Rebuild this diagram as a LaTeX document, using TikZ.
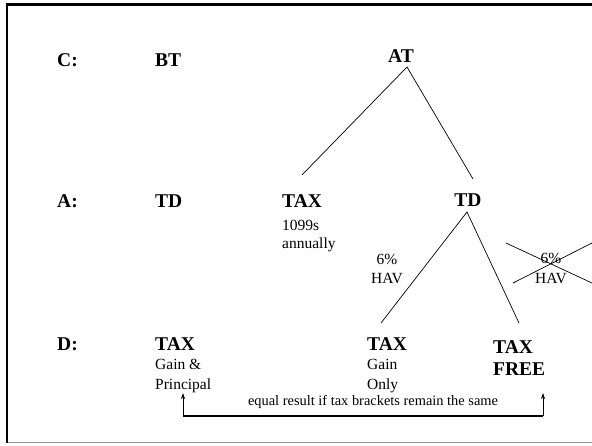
\documentclass[tikz,border=0pt]{standalone}
\usepackage{fontspec}
\setmainfont{Liberation Serif}
\usepackage{tikz}
\usetikzlibrary{arrows.meta, positioning}

\begin{document}
\begin{tikzpicture}[x=1pt, y=-1pt,
  rowlbl/.style={anchor=base west, inner sep=0pt, font=\fontsize{19.5}{23}\selectfont\bfseries},
  head/.style={anchor=base west, inner sep=0pt, font=\fontsize{19.5}{23}\selectfont\bfseries},
  sub/.style={anchor=base west, inner sep=0pt, font=\fontsize{15.5}{18}\selectfont},
  note/.style={anchor=base, inner sep=0pt, font=\fontsize{14.4}{17}\selectfont},
  branch/.style={line width=0.7pt},
  tip/.style={-{Stealth[length=6pt, width=4pt]}, line width=0.8pt}]
\definecolor{frameshade}{RGB}{150,150,150}
\useasboundingbox (0,0) rectangle (592,445);

% Frame (open on the right)
\draw[line width=2.5pt] (7,443) -- (7,4.5) -- (592,4.5);
\draw[frameshade, line width=1pt] (8,442.5) -- (592,442.5);

% ---- ROW C ----
\node[rowlbl] (rowC) at (57,66) {C:};
\node[head] (bt) at (155,66) {BT};
\node[head, anchor=base] (at) at (401,62) {AT};

% ---- ROW A ----
\node[rowlbl] (rowA) at (57,207) {A:};
\node[head] (tdLeft) at (155,207) {TD};
\node[head] (taxA) at (282,207) {TAX};
\node[sub] (forms) at (282,230) {1099s};
\node[sub] (yearly) at (282,248) {annually};
\node[head, anchor=base] (tdRight) at (468,206) {TD};

% HAV labels, the right one crossed out
\node[sub, anchor=base] (havPct) at (387,264) {6\%};
\node[sub, anchor=base] (hav) at (387,283) {HAV};
\node[sub, anchor=base] (xhavPct) at (551,263) {6\%};
\node[sub, anchor=base] (xhav) at (551,283) {HAV};

% ---- ROW D ----
\node[rowlbl] (rowD) at (57,350) {D:};
\node[head] (taxBoth) at (155,350) {TAX};
\node[sub] (gainAnd) at (155,369) {Gain \&};
\node[sub] (principal) at (155,389) {Principal};
\node[head] (taxGain) at (367,350) {TAX};
\node[sub] (gain) at (367,369) {Gain};
\node[sub] (only) at (367,389) {Only};
\node[head] (taxFree) at (493,353) {TAX};
\node[head] (free) at (493,375) {FREE};

% Tree branches
\coordinate (atTip) at (407,67);
\coordinate (atLeft) at (302,175);
\coordinate (atRight) at (473,179);
\draw[branch] (atLeft) -- (atTip) -- (atRight);
\coordinate (tdTip) at (467,212);
\coordinate (tdLeftEnd) at (381,323);
\coordinate (tdRightEnd) at (519,323);
\draw[branch] (tdLeftEnd) -- (tdTip) -- (tdRightEnd);

% Cross over 6% HAV
\coordinate (crossA) at (506,243);
\coordinate (crossB) at (592,283);
\coordinate (crossC) at (513,283);
\coordinate (crossD) at (592,243);
\draw[branch] (crossA) -- (crossB);
\draw[branch] (crossC) -- (crossD);

% ---- EQUAL RESULT BRACKET ----
\coordinate (eqLeft) at (183,416);
\coordinate (eqLeftTip) at (183,393);
\coordinate (eqRight) at (543,416);
\coordinate (eqRightTip) at (543,393);
\draw[line width=1.8pt] (eqLeft) -- (eqRight);
\draw[tip] (eqLeft) -- (eqLeftTip);
\draw[tip] (eqRight) -- (eqRightTip);
\node[note] (equal) at (373,405) {equal result if tax brackets remain the same};

\end{tikzpicture}
\end{document}
